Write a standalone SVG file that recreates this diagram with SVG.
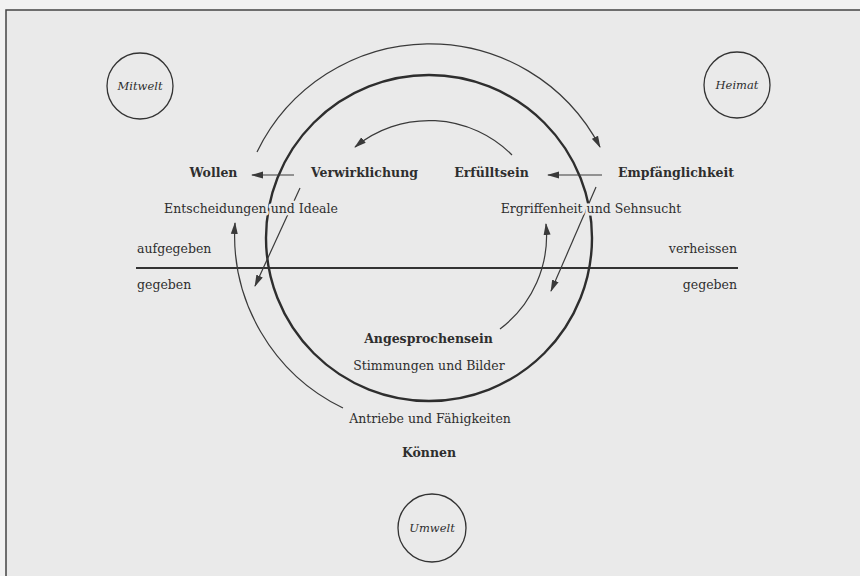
<svg xmlns="http://www.w3.org/2000/svg" width="860" height="576" viewBox="0 0 860 576">
<defs>
<marker id="ah" viewBox="0 0 12 8" refX="11" refY="4" markerWidth="12" markerHeight="8" markerUnits="userSpaceOnUse" orient="auto">
<path d="M0,0.5 L12,4 L0,7.5 Z" fill="#3a3a3a"/>
</marker>
<style>
text{font-family:"DejaVu Serif","Liberation Serif",serif;fill:#2e2e2e;paint-order:stroke;stroke:#eaeaea;stroke-width:5px;stroke-linejoin:round}
.b{font-weight:bold;font-size:12.5px}
.r{font-size:12.5px}
.i{font-style:italic;font-size:11.5px;stroke:none}
.m{text-anchor:middle}
.e{text-anchor:end}
.arc{fill:none;stroke:#3a3a3a;stroke-width:1.2}
.ring{fill:none;stroke:#333;stroke-width:1.3}
</style>
</defs>
<rect x="0" y="0" width="860" height="576" fill="#f2f2f2"/>
<rect x="6" y="10" width="870" height="580" fill="#eaeaea" stroke="#444" stroke-width="1.5"/>

<g id="baseline-axis">
<line x1="136" y1="268" x2="738" y2="268" stroke="#333" stroke-width="2"/>
</g>
<g id="main-circle">
<circle cx="429" cy="238" r="163" fill="none" stroke="#2e2e2e" stroke-width="2.4"/>
</g>

<g id="connectors">
<path class="arc" d="M257,152 A192,192 0 0 1 600,147" marker-end="url(#ah)"/>
<path class="arc" d="M512,155 A117,117 0 0 0 355,147" marker-end="url(#ah)"/>
<path class="arc" d="M343,408 A192,192 0 0 1 235,223" marker-end="url(#ah)"/>
<path class="arc" d="M500,329 A117,117 0 0 0 546,224" marker-end="url(#ah)"/>
<line class="arc" x1="300" y1="188" x2="255" y2="286" marker-end="url(#ah)"/>
<line class="arc" x1="596" y1="187" x2="551" y2="291" marker-end="url(#ah)"/>
<line class="arc" x1="294" y1="175" x2="252" y2="175" marker-end="url(#ah)"/>
<line class="arc" x1="602" y1="175" x2="548" y2="175" marker-end="url(#ah)"/>
</g>

<g id="wollen"><text class="b m" x="213.5" y="177">Wollen</text></g>
<g id="verwirklichung"><text class="b m" x="364.5" y="177">Verwirklichung</text></g>
<g id="erfuelltsein"><text class="b m" x="491.5" y="177">Erfülltsein</text></g>
<g id="empfaenglichkeit"><text class="b m" x="676" y="177">Empfänglichkeit</text></g>
<g id="entscheidungen"><text class="r m" x="251" y="213">Entscheidungen und Ideale</text></g>
<g id="ergriffenheit"><text class="r m" x="591" y="213">Ergriffenheit und Sehnsucht</text></g>
<g id="aufgegeben"><text class="r" x="137" y="253">aufgegeben</text></g>
<g id="gegeben-links"><text class="r" x="137" y="289">gegeben</text></g>
<g id="verheissen"><text class="r e" x="737" y="253">verheissen</text></g>
<g id="gegeben-rechts"><text class="r e" x="737" y="289">gegeben</text></g>
<g id="angesprochensein"><text class="b m" x="428.5" y="343">Angesprochensein</text></g>
<g id="stimmungen"><text class="r m" x="429" y="370">Stimmungen und Bilder</text></g>
<g id="antriebe"><text class="r m" x="430" y="423">Antriebe und Fähigkeiten</text></g>
<g id="koennen"><text class="b m" x="429" y="457">Können</text></g>

<g id="mitwelt">
<circle class="ring" cx="140" cy="86" r="33"/>
<text class="i m" x="140" y="90">Mitwelt</text>
</g>
<g id="heimat">
<circle class="ring" cx="737" cy="85" r="33"/>
<text class="i m" x="737" y="89">Heimat</text>
</g>
<g id="umwelt">
<circle class="ring" cx="432" cy="528" r="34"/>
<text class="i m" x="432" y="532">Umwelt</text>
</g>
</svg>
